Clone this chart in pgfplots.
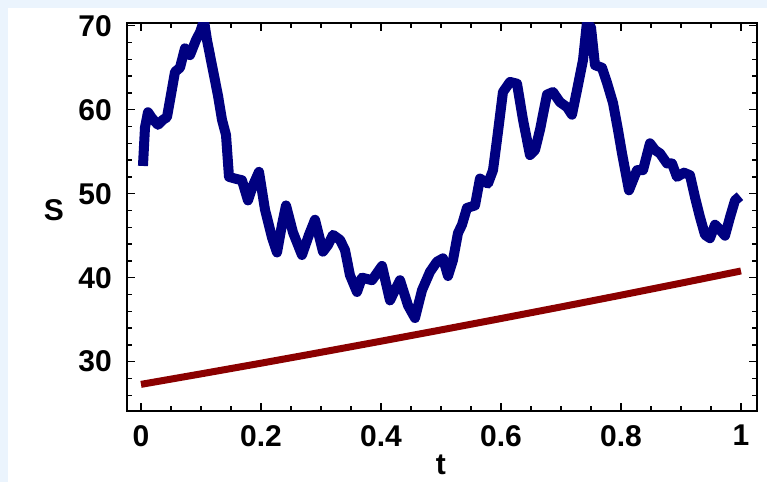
\documentclass[border=0pt]{standalone}
\usepackage{fontspec}
\setmainfont{Liberation Sans}
\usepackage{pgfplots}
\pgfplotsset{compat=1.18}
\definecolor{bgblue}{RGB}{235,244,253}
\definecolor{pathblue}{RGB}{0,0,128}
\definecolor{trendred}{RGB}{139,0,0}
\begin{document}
\begin{tikzpicture}
\path[use as bounding box] (0pt,0pt) rectangle (767pt,482pt);
\clip (0pt,0pt) rectangle (767pt,482pt);
\fill[white] (0pt,0pt) rectangle (767pt,482pt);
\fill[bgblue] (0pt,474pt) rectangle (767pt,482pt);
\fill[bgblue] (0pt,0pt) rectangle (8pt,482pt);
\begin{axis}[
  scale only axis,
  width=630pt, height=388pt,
  at={(127pt,71pt)}, anchor=south west,
  xmin=-0.0233, xmax=1.0267,
  ymin=24.13, ymax=70.32,
  axis line style={line width=1.6pt},
  xtick={0,0.2,0.4,0.6,0.8,1},
  xticklabels={0,0.2,0.4,0.6,0.8,1},
  ytick={30,40,50,60,70},
  yticklabels={30,40,50,60,70},
  minor xtick={0.05,0.1,0.15,0.25,0.3,0.35,0.45,0.5,0.55,0.65,0.7,0.75,0.85,0.9,0.95},
  minor ytick={26,28,32,34,36,38,42,44,46,48,52,54,56,58,62,64,66,68},
  tick align=inside,
  major tick length=8pt,
  minor tick length=5pt,
  every tick/.style={black, line width=1.4pt},
  /pgf/number format/assume math mode=true,
  tick label style={font=\fontsize{30}{31}\selectfont\bfseries, inner sep=0pt},
  yticklabel style={xshift=-15pt},
  xticklabel style={yshift=-14pt},
  xlabel={t}, ylabel={S},
  label style={font=\fontsize{30}{31}\selectfont\bfseries},
  xlabel style={at={(axis description cs:0.498,-0.112)}, anchor=north, inner sep=0pt},
  ylabel style={at={(axis description cs:-0.116,0.518)}, rotate=-90, anchor=center, inner sep=0pt},
]
\addplot[trendred, line width=7pt, line cap=butt] coordinates {
(0,27.30) (0.1,28.55) (0.2,29.82) (0.3,31.12) (0.4,32.44) (0.5,33.78)
(0.6,35.14) (0.7,36.52) (0.8,37.92) (0.9,39.35) (1.0,40.80)
};
\addplot[pathblue, line width=10pt, line join=round] coordinates {
(0.0033,53.3) (0.0067,57.9) (0.0117,59.7) (0.0183,59.0) (0.0283,58.2)
(0.0367,58.8) (0.0433,59.1) (0.0483,61.1) (0.0567,64.5) (0.065,65.0)
(0.0733,67.3) (0.0817,66.5) (0.0917,68.3) (0.0983,69.2) (0.105,70.6)
(0.11,68.3) (0.1183,65.3) (0.1283,61.7) (0.135,58.8) (0.1417,57.0)
(0.1467,52.0) (0.1567,51.8) (0.1683,51.6) (0.1783,49.2) (0.1867,51.0)
(0.1967,52.6) (0.2067,48.1) (0.2183,44.8) (0.2267,43.0) (0.235,46.3)
(0.2417,48.6) (0.2533,45.4) (0.2683,42.7) (0.28,45.1) (0.29,46.9)
(0.3033,43.1) (0.3117,43.9) (0.32,45.1) (0.3317,44.5) (0.34,43.3)
(0.3483,40.3) (0.36,38.3) (0.3683,40.0) (0.385,39.7) (0.4017,41.4)
(0.415,37.3) (0.4317,39.7) (0.445,36.7) (0.4567,35.2) (0.4683,38.5)
(0.4817,40.7) (0.4933,41.9) (0.5033,42.3) (0.5117,40.2) (0.52,42.1)
(0.5283,45.3) (0.535,46.3) (0.5433,48.3) (0.5567,48.6) (0.565,51.8)
(0.5783,51.2) (0.5867,52.8) (0.5933,56.4) (0.6033,62.1) (0.615,63.3)
(0.6267,63.1) (0.6367,58.8) (0.6483,54.6) (0.6567,55.2) (0.665,57.6)
(0.6767,61.8) (0.6867,62.1) (0.6983,60.9) (0.71,60.3) (0.7183,59.4)
(0.7283,62.9) (0.7367,65.9) (0.7433,70.4) (0.75,69.8) (0.7567,65.3)
(0.7683,65.0) (0.7767,63.2) (0.7867,60.8) (0.795,57.6) (0.8017,54.8)
(0.8133,50.4) (0.8267,52.8) (0.8367,52.8) (0.8483,56.0) (0.8567,55.2)
(0.865,54.8) (0.8767,53.6) (0.885,53.6) (0.8933,52.0) (0.905,52.5)
(0.915,52.2) (0.9233,49.6) (0.9317,47.2) (0.94,45.1) (0.9483,44.7)
(0.9567,46.3) (0.965,45.7) (0.9733,45.0) (0.9817,47.2) (0.99,49.2)
(0.9983,49.7)
};
\end{axis}
\end{tikzpicture}
\end{document}
